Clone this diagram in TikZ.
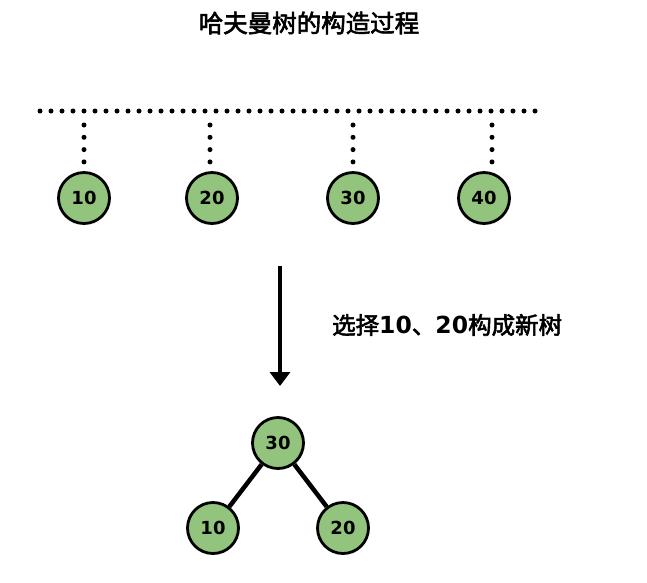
\documentclass[tikz,border=0pt]{standalone}
\usepackage{fontspec}
\setmainfont{DejaVu Sans}
\newfontfamily\cjk[FakeBold=2.5]{Noto Sans CJK SC}
\newfontfamily\digits{DejaVu Sans}
\usetikzlibrary{arrows.meta}
\definecolor{nodegreen}{HTML}{93C47D}
\tikzset{
  num/.style={circle, draw=black, line width=2.8pt, fill=nodegreen, minimum size=51pt, inner sep=0pt, font=\digits\bfseries\fontsize{18}{18}\selectfont},
  dotline/.style={line width=5pt, line cap=round, dash pattern=on 0pt off 11pt},
  edge/.style={line width=4.5pt},
}
\begin{document}
\begin{tikzpicture}[x=1pt,y=-1pt]
\useasboundingbox (0,0) rectangle (647,582);
\node (title) at (309,23) {\cjk\fontsize{24.5}{24.5}\selectfont 哈夫曼树的构造过程};
\coordinate (dl) at (40,111);
\coordinate (dr) at (540,111);
\draw[dotline] (dl) -- (dr);
\node[num] (n10) at (84,198) {10};
\node[num] (n20) at (212,198) {20};
\node[num] (n30) at (353,198) {30};
\node[num] (n40) at (484,198) {40};
\coordinate (v1a) at (84,125); \coordinate (v1b) at (84,162);
\coordinate (v2a) at (210,125); \coordinate (v2b) at (210,162);
\coordinate (v3a) at (353,125); \coordinate (v3b) at (353,162);
\coordinate (v4a) at (492,125); \coordinate (v4b) at (492,162);
\draw[dotline, dash pattern=on 0pt off 12.3pt] (v1a) -- (v1b);
\draw[dotline, dash pattern=on 0pt off 12.3pt] (v2a) -- (v2b);
\draw[dotline, dash pattern=on 0pt off 12.3pt] (v3a) -- (v3b);
\draw[dotline, dash pattern=on 0pt off 12.3pt] (v4a) -- (v4b);
\coordinate (as) at (280,266);
\coordinate (ae) at (280,386);
\draw[line width=4.5pt, -{Triangle[width=20pt,length=14pt]}] (as) -- (ae);
\node[anchor=west, inner sep=0pt] (lbl) at (332,325) {\cjk\fontsize{23.5}{23.5}\selectfont 选择{\digits\bfseries\fontsize{23.5}{23.5}\selectfont 10}、{\digits\bfseries\fontsize{23.5}{23.5}\selectfont 20}构成新树};
\node[num] (t30) at (278,443) {30};
\node[num] (t10) at (213,528) {10};
\node[num] (t20) at (343,528) {20};
\draw[edge] (t30) -- (t10);
\draw[edge] (t30) -- (t20);
\end{tikzpicture}
\end{document}
